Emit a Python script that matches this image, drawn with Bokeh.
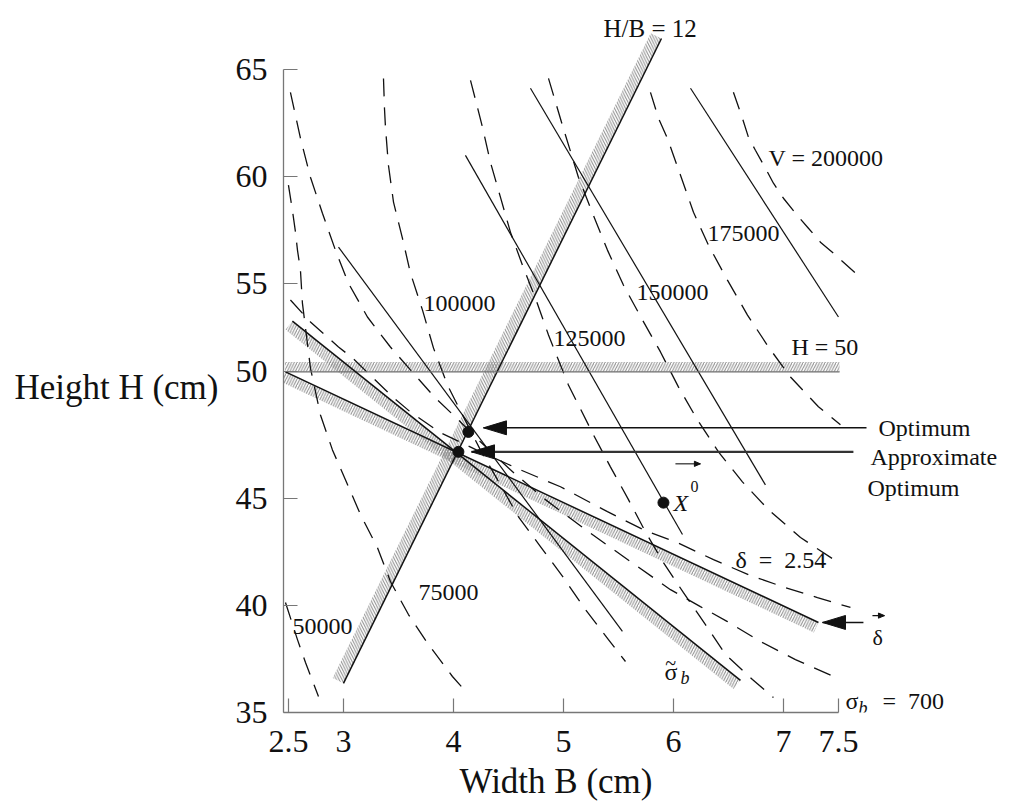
import math
from bokeh.plotting import figure
from bokeh.models import Range1d, FixedTicker, Title
from bokeh.core.properties import value
from bokeh.embed import file_html
from bokeh.resources import INLINE

FONT = "Liberation Serif"

# ---------------- axes ----------------
x_ticks = [2.5, 3, 4, 5, 6, 7, 7.5]
x_tick_labels = ["2.5", "3", "4", "5", "6", "7", "7.5"]
y_ticks = [35, 40, 45, 50.89, 55, 60, 65]
y_tick_labels = ["35", "40", "45", "50", "55", "60", "65"]
x_title = "Width B (cm)"
y_title = "Height H (cm)"

# ---------------- dashed (nonlinear) curves: (B, H) ----------------
v50000_B = [2.473, 2.582, 2.655, 2.773]
v50000_H = [40.13, 38.40, 37.33, 35.75]
v75000_B = [2.5, 2.536, 2.564, 2.582, 2.609, 2.627, 2.7, 2.791, 2.9, 3.018, 3.155, 3.309, 3.427, 3.591, 3.773, 3.991, 4.136]
v75000_H = [59.60, 58.43, 57.41, 56.57, 55.64, 54.10, 51.07, 48.88, 47.25, 45.86, 44.23, 42.69, 41.11, 39.57, 38.17, 36.68, 35.84]
v100000_B = [3.364, 3.373, 3.382, 3.409, 3.455, 3.536, 3.609, 3.718, 3.818, 3.945, 4.091, 4.245, 4.4, 4.591, 4.791, 5.0, 5.2, 5.409, 5.564]
v100000_H = [64.58, 63.18, 62.30, 60.53, 58.81, 57.13, 55.50, 53.78, 52.01, 50.28, 48.79, 47.25, 45.86, 44.13, 42.74, 41.29, 39.80, 38.40, 37.38]
v125000_B = [4.155, 4.218, 4.264, 4.336, 4.427, 4.518, 4.627, 4.745, 4.864, 5.045, 5.273, 5.427, 5.591, 5.745, 5.909, 6.091, 6.291, 6.473, 6.718, 6.909]
v125000_H = [64.49, 63.23, 62.30, 60.67, 59.04, 57.41, 55.87, 54.33, 52.61, 50.28, 47.95, 46.46, 44.93, 43.43, 41.99, 40.59, 39.10, 37.71, 36.54, 35.70]
v150000_B = [4.864, 4.991, 5.136, 5.264, 5.4, 5.545, 5.718, 5.882, 6.045, 6.218, 6.409, 6.627, 6.864, 7.155, 7.5]
v150000_H = [64.58, 62.39, 59.97, 58.29, 56.57, 54.94, 53.31, 51.82, 50.19, 48.65, 47.16, 45.76, 44.46, 43.16, 41.99]
v175000_B = [5.791, 5.864, 5.945, 6.064, 6.182, 6.318, 6.491, 6.673, 6.864, 7.064, 7.318, 7.518]
v175000_H = [63.93, 62.72, 61.79, 60.06, 58.34, 56.80, 55.17, 53.54, 52.05, 50.65, 49.26, 48.42]
v200000_B = [6.545, 6.627, 6.682, 6.745, 6.836, 6.909, 7.0, 7.109, 7.227, 7.336, 7.473, 7.655]
v200000_H = [63.93, 62.72, 61.83, 61.23, 60.39, 59.69, 58.99, 58.29, 57.59, 56.94, 56.34, 55.50]
sigma_B = [2.518, 2.609, 2.7, 2.809, 2.927, 3.045, 3.218, 3.427, 3.609, 3.827, 4.045, 4.245, 4.518, 4.836, 5.2, 5.609, 5.973, 6.245, 6.491, 6.791, 7.109, 7.518]
sigma_H = [63.93, 61.79, 59.97, 58.29, 56.57, 55.03, 53.45, 52.05, 50.98, 49.72, 48.65, 47.63, 46.32, 44.93, 43.53, 42.04, 40.73, 39.94, 39.24, 38.31, 37.47, 36.54]
delta_B = [2.518, 2.7, 2.955, 3.082, 3.455, 3.609, 3.882, 4.245, 4.609, 4.973, 5.4, 5.745, 6.036, 6.364, 6.682, 6.991, 7.309, 7.609]
delta_H = [54.24, 53.22, 52.05, 51.54, 49.68, 49.02, 48.05, 47.16, 46.32, 45.53, 44.37, 43.48, 42.92, 42.13, 41.43, 40.87, 40.36, 39.90]

dashed_B = [v50000_B, v75000_B, v100000_B, v125000_B, v150000_B, v175000_B, v200000_B, sigma_B, delta_B]
dashed_H = [v50000_H, v75000_H, v100000_H, v125000_H, v150000_H, v175000_H, v200000_H, sigma_H, delta_H]

# ---------------- linearized volume contours (solid lines) ----------------
lin_B0 = [2.955, 4.109, 4.7, 6.155]
lin_H0 = [56.71, 60.99, 64.12, 64.12]
lin_B1 = [5.536, 6.082, 6.836, 7.5]
lin_H1 = [38.78, 43.30, 45.62, 53.45]

# ---------------- constraint lines (hatched) ----------------
# H/B = 12, H = 50, linearized sigma_b, linearized delta
con_B0 = [3.0, 2.47, 2.536, 2.473]
con_H0 = [36.36, 50.89, 53.26, 50.89]
con_B1 = [5.891, 7.51, 6.609, 7.318]
con_H1 = [66.44, 50.89, 36.50, 39.20]

# ---------------- points: optimum, approximate optimum, X0 ----------------
pt_B = [4.136, 4.045, 5.909]
pt_H = [48.09, 47.16, 44.79]

# ---------------- pointer arrows ----------------
arr_tail_B = [7.755, 7.636, 7.727]
arr_tip_B = [4.273, 4.164, 7.355]
arr_H = [48.28, 47.16, 39.20]

# ---------------- vector-sign arrows (over X and delta) ----------------
vec_tail_B = [6.018, 7.809]
vec_tip_B = [6.245, 7.918]
vec_H = [46.60, 39.52]

# ---------------- labels ----------------
lab_text = ["V = 200000", "175000", "150000", "125000", "100000", "75000", "50000",
            "H = 50", "Optimum", "Approximate", "Optimum", "\u03b4\u00a0\u00a0=\u00a0\u00a02.54"]
lab_B = [6.864, 6.309, 5.664, 4.909, 3.727, 3.682, 2.536, 7.073, 7.864, 7.791, 7.764, 6.564]
lab_H = [60.85, 57.36, 54.57, 52.47, 54.10, 40.59, 39.01, 52.05, 48.28, 46.93, 45.48, 42.13]
hb_text = ["H/B = 12"]
hb_B = [5.364]
hb_H = [66.91]

# ---------------- figure ----------------
W, HT = 1010, 806
ML, MR, MT, MB = 283, 0, 0, 93
XR = (2.455, 9.064)
YR = (35.0, 68.214)

p = figure(width=W, height=HT, x_range=Range1d(*XR), y_range=Range1d(*YR),
           output_backend="svg", toolbar_location=None,
           min_border_left=ML, min_border_right=MR, min_border_top=MT, min_border_bottom=MB)
p.grid.visible = False
p.outline_line_color = None
p.background_fill_color = "white"
p.border_fill_color = "white"

kx = (W - ML - MR) / (XR[1] - XR[0])   # px per unit B
ky = (HT - MT - MB) / (YR[1] - YR[0])  # px per unit H


def band(b0, h0, b1, h1, w, side):
    dx = (b1 - b0) * kx
    dy = (h1 - h0) * ky
    L = math.hypot(dx, dy)
    nx, ny = -dy / L * side, dx / L * side
    ob, oh = nx * w / kx, ny * w / ky
    return [b0, b1, b1 + ob, b0 + ob], [h0, h1, h1 + oh, h0 + oh]


con_side = [1, 1, -1, -1]
con_width = [12, 10, 11, 11]
con_hatch = ["\\", "/", "/", "/"]
for i in range(len(con_B0)):
    xs, ys = band(con_B0[i], con_H0[i], con_B1[i], con_H1[i], con_width[i], con_side[i])
    p.patch(xs, ys, fill_color=None, line_color=None, hatch_pattern=con_hatch[i],
            hatch_color="#8c8c8c", hatch_scale=5.5, hatch_weight=1)

# dashed curves
p.multi_line(dashed_B, dashed_H, line_color="#111111", line_width=1.3, line_dash="18 11")

# linearized contours
p.segment(lin_B0, lin_H0, lin_B1, lin_H1, line_color="#111111", line_width=1.2)

# constraint lines
p.segment(con_B0, con_H0, con_B1, con_H1,
          line_color=["#111111", "#6e6e6e", "#111111", "#111111"],
          line_width=[1.5, 1.3, 1.5, 1.5])


def heads(tails, tips, hs, L, w):
    hx, hy = [], []
    for tb, tp, h in zip(tails, tips, hs):
        d = 1 if tp > tb else -1
        base = tp - d * L / kx
        hx.append([tp, base, base])
        hy.append([h, h + w / ky, h - w / ky])
    return hx, hy


# pointer arrows
p.segment(arr_tail_B, arr_H, arr_tip_B, arr_H, line_color=["#111111", "#333333", "#111111"],
          line_width=[1.6, 2.4, 1.6])
hx, hy = heads(arr_tail_B, arr_tip_B, arr_H, 23, 7)
p.patches(hx, hy, color="#111111")

# small vector arrows
p.segment(vec_tail_B, vec_H, vec_tip_B, vec_H, line_color="#111111", line_width=1.1)
vx, vy = heads(vec_tail_B, vec_tip_B, vec_H, 6, 2.6)
p.patches(vx, vy, color="#111111")

# points
p.scatter(pt_B, pt_H, size=11, color="#111111")


def txt(xs, ys, texts, size="24px", style="normal"):
    p.text(x=xs, y=ys, text=texts, text_font=value(FONT), text_font_size=size,
           text_font_style=style, text_align="left", text_baseline="alphabetic",
           text_color="#111111")


txt(lab_B, lab_H, lab_text)
txt(hb_B, hb_H, hb_text, size="25px")
# sigma_b = 700
txt([7.564], [35.52], ["\u03c3"])
txt([7.682], [35.19], ["b"], size="18px", style="italic")
txt([7.90], [35.52], ["=\u00a0\u00a0700"])
# sigma tilde b
txt([5.918], [36.87], ["\u03c3"])
txt([5.925], [37.30], ["~"], size="20px")
txt([6.064], [36.63], ["b"], size="18px", style="italic")
# X0 vector
txt([6.0], [44.79], ["X"], style="italic")
txt([6.155], [45.53], ["0"], size="16px")
# delta vector
txt([7.809], [38.50], ["\u03b4"], size="22px")

# axes
xa = p.xaxis[0]
ya = p.yaxis[0]
xa.ticker = FixedTicker(ticks=x_ticks)
xa.major_label_overrides = {t: l for t, l in zip(x_ticks, x_tick_labels)}
xa.bounds = (XR[0], 7.5)
ya.ticker = FixedTicker(ticks=y_ticks)
ya.major_label_overrides = {t: l for t, l in zip(y_ticks, y_tick_labels)}
ya.bounds = (35, 65)
for ax in (xa, ya):
    ax.axis_line_color = "#777777"
    ax.axis_line_width = 1.3
    ax.major_tick_line_color = "#777777"
    ax.major_tick_line_width = 1.2
    ax.major_tick_in = 14
    ax.major_tick_out = 0
    ax.minor_tick_line_color = None
    ax.major_label_text_font = FONT
    ax.major_label_text_font_size = "32px"
    ax.major_label_text_color = "#111111"
xa.major_label_standoff = 18
ya.major_label_standoff = 16

# y title: horizontal axis label (an empty first line moves it down to the H = 50 level)
ya.axis_label = "\u00a0\n" + y_title
ya.axis_label_orientation = "horizontal"
ya.axis_label_text_font = FONT
ya.axis_label_text_font_style = "normal"
ya.axis_label_text_font_size = "35px"
ya.axis_label_text_line_height = 1.6
ya.axis_label_text_color = "#111111"
ya.axis_label_standoff = 14

# x title below the axis, centred under B = 5
p.add_layout(Title(text=x_title, align="left", offset=176, standoff=11,
                   vertical_align="bottom", text_font=FONT, text_font_size="35px",
                   text_font_style="normal", text_color="#111111"), "below")

open("out.html", "w").write(file_html(p, INLINE))
